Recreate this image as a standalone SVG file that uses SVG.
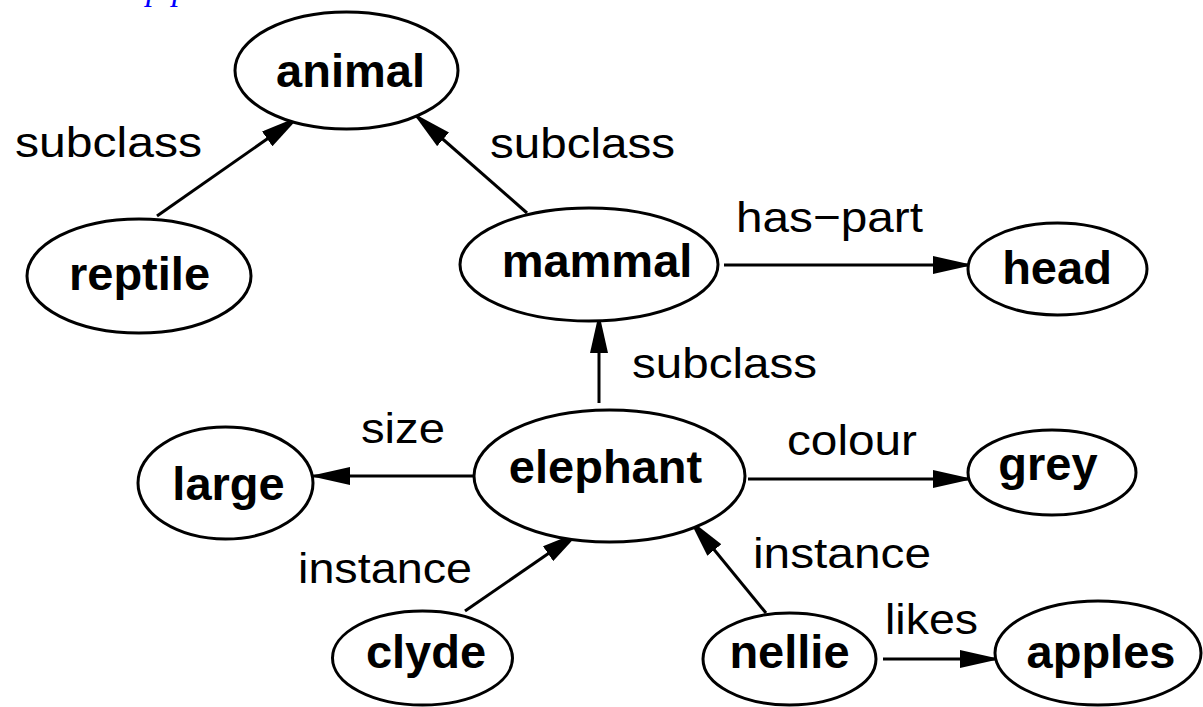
<svg xmlns="http://www.w3.org/2000/svg" width="1203" height="707" viewBox="0 0 1203 707">
<style>
.node ellipse{fill:#fff;stroke:#000;stroke-width:3}
.node text{font-family:"Liberation Sans",Arial,sans-serif;font-weight:bold;font-size:47px;text-anchor:middle;fill:#000}
.edge{stroke:#000;stroke-width:3;fill:none;marker-end:url(#arrow)}
.lbl{font-family:"Liberation Sans",Arial,sans-serif;font-size:43px;fill:#000}
.cap{font-family:"Liberation Serif","Times New Roman",serif;font-style:italic;font-size:34px;fill:#0000ff}
</style>
<defs>
<marker id="arrow" markerUnits="userSpaceOnUse" markerWidth="40" markerHeight="18" refX="40" refY="9" orient="auto">
<path d="M0,0 L40,9 L0,18 z" fill="#000"/>
</marker>
</defs>
<rect width="1203" height="707" fill="#fff"/>
<text class="cap" y="0"><tspan x="146">p</tspan><tspan x="172">p</tspan></text>
<g id="connectors">
<line class="edge" x1="157" y1="216" x2="300" y2="116"/>
<line class="edge" x1="527" y1="213" x2="413" y2="113"/>
<line class="edge" x1="724" y1="265" x2="973" y2="265"/>
<line class="edge" x1="599" y1="403" x2="599" y2="313"/>
<line class="edge" x1="474" y1="476" x2="310" y2="476"/>
<line class="edge" x1="748" y1="479" x2="973" y2="479"/>
<line class="edge" x1="465" y1="611" x2="581" y2="531"/>
<line class="edge" x1="766" y1="613" x2="689" y2="519"/>
<line class="edge" x1="883" y1="659" x2="1000" y2="659"/>
<text class="lbl" x="15" y="157" textLength="187" lengthAdjust="spacingAndGlyphs">subclass</text>
<text class="lbl" x="490" y="158" textLength="185" lengthAdjust="spacingAndGlyphs">subclass</text>
<text class="lbl" x="736" y="232" textLength="187" lengthAdjust="spacingAndGlyphs">has−part</text>
<text class="lbl" x="632" y="378" textLength="185" lengthAdjust="spacingAndGlyphs">subclass</text>
<text class="lbl" x="361" y="443" textLength="84" lengthAdjust="spacingAndGlyphs">size</text>
<text class="lbl" x="787" y="455" textLength="130" lengthAdjust="spacingAndGlyphs">colour</text>
<text class="lbl" x="298" y="583" textLength="174" lengthAdjust="spacingAndGlyphs">instance</text>
<text class="lbl" x="753" y="568" textLength="178" lengthAdjust="spacingAndGlyphs">instance</text>
<text class="lbl" x="885" y="634" textLength="93" lengthAdjust="spacingAndGlyphs">likes</text>
</g>
<g id="animal" class="node"><ellipse cx="346.5" cy="70.5" rx="111.5" ry="58.5"/><text x="350.5" y="87">animal</text></g>
<g id="reptile" class="node"><ellipse cx="139" cy="276" rx="112" ry="57"/><text x="139.5" y="290">reptile</text></g>
<g id="mammal" class="node"><ellipse cx="589" cy="264.5" rx="129" ry="56.5"/><text x="597" y="277">mammal</text></g>
<g id="head" class="node"><ellipse cx="1057.5" cy="269" rx="89.5" ry="46"/><text x="1057" y="284">head</text></g>
<g id="large" class="node"><ellipse cx="225.5" cy="483" rx="87.5" ry="56"/><text x="228.5" y="500">large</text></g>
<g id="elephant" class="node"><ellipse cx="609.5" cy="476" rx="135.5" ry="66"/><text x="605.5" y="483">elephant</text></g>
<g id="grey" class="node"><ellipse cx="1052" cy="472.5" rx="84" ry="42.5"/><text x="1048" y="480">grey</text></g>
<g id="clyde" class="node"><ellipse cx="422.5" cy="658" rx="90" ry="47"/><text x="426" y="668">clyde</text></g>
<g id="nellie" class="node"><ellipse cx="789.5" cy="659" rx="86.5" ry="46"/><text x="789.5" y="668">nellie</text></g>
<g id="apples" class="node"><ellipse cx="1098" cy="653" rx="103" ry="52"/><text x="1101" y="668">apples</text></g>
</svg>
